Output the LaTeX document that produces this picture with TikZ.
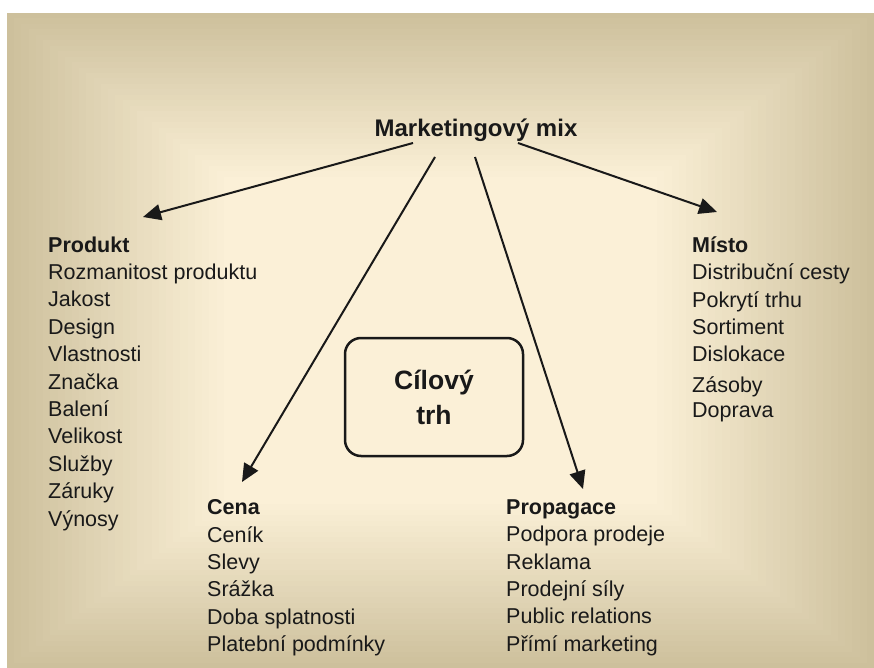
\documentclass[tikz,border=0pt]{standalone}
\usepackage{fontspec}
\setmainfont{Liberation Sans}
\usetikzlibrary{arrows.meta}
\definecolor{EdgeC}{RGB}{205,192,156}
\definecolor{CenterC}{RGB}{251,240,215}
\definecolor{InkC}{RGB}{25,25,25}
\tikzset{
  listblock/.style={anchor=north west, inner sep=0pt, align=left, text=InkC,
    font=\fontsize{21.5}{27.4}\selectfont},
  arrowline/.style={draw=InkC, line width=2pt, -{Triangle[length=18pt,width=16pt]}},
  targetbox/.style={draw=InkC, line width=2.5pt, rounded corners=16pt,
    minimum width=178pt, minimum height=118pt, align=center, text=InkC,
    font=\bfseries\fontsize{26.5}{35}\selectfont, inner sep=0pt},
  titletext/.style={anchor=base, inner sep=0pt, text=InkC,
    font=\bfseries\fontsize{24}{28}\selectfont}
}
\begin{document}
\begin{tikzpicture}[x=1pt,y=-1pt]
\useasboundingbox (0,0) rectangle (874,668);
\fill[white] (0,0) rectangle (874,668);
% rectangular gradient background
\foreach \i in {0,...,30}{
  \pgfmathsetmacro\f{\i/60}
  \pgfmathsetmacro\p{min(100,100*\f/0.5)}
  \pgfmathsetmacro\xa{440.5-(1-\f)*433.5}
  \pgfmathsetmacro\xb{440.5+(1-\f)*433.5}
  \pgfmathsetmacro\ya{340.5-(1-\f)*327.5}
  \pgfmathsetmacro\yb{340.5+(1-\f)*327.5}
  \fill[CenterC!\p!EdgeC] (\xa,\ya) rectangle (\xb,\yb);
}
% title
\node[titletext] (mix) at (476,137) {Marketingový mix};
% target box
\node[targetbox] (target) at (434,397) {Cílový\\trh};
% lists
\node[listblock] (produkt) at (48,236.4) {\textbf{Produkt}\\Rozmanitost produktu\\Jakost\\Design\\Vlastnosti\\Značka\\Balení\\Velikost\\Služby\\Záruky\\Výnosy};
\node[listblock] (cena) at (207,499.4) {\textbf{Cena}\\Ceník\\Slevy\\Srážka\\Doba splatnosti\\Platební podmínky};
\node[listblock] (propagace) at (506,499.4) {\textbf{Propagace}\\Podpora prodeje\\Reklama\\Prodejní síly\\Public relations\\Přímí marketing};
\node[listblock] (misto) at (692,236.4) {\textbf{Místo}\\Distribuční cesty\\Pokrytí trhu\\Sortiment\\Dislokace\\[3pt]Zásoby\\[-2pt]Doprava};
% arrow endpoints
\coordinate (s1) at (413,143);
\coordinate (s2) at (435,157);
\coordinate (s3) at (475,157);
\coordinate (s4) at (518,143);
\coordinate (t1) at (143,217);
\coordinate (t2) at (242,482);
\coordinate (t3) at (583,489);
\coordinate (t4) at (717,212);
\draw[arrowline] (s1) -- (t1);
\draw[arrowline] (s2) -- (t2);
\draw[arrowline] (s3) -- (t3);
\draw[arrowline] (s4) -- (t4);
\end{tikzpicture}
\end{document}
